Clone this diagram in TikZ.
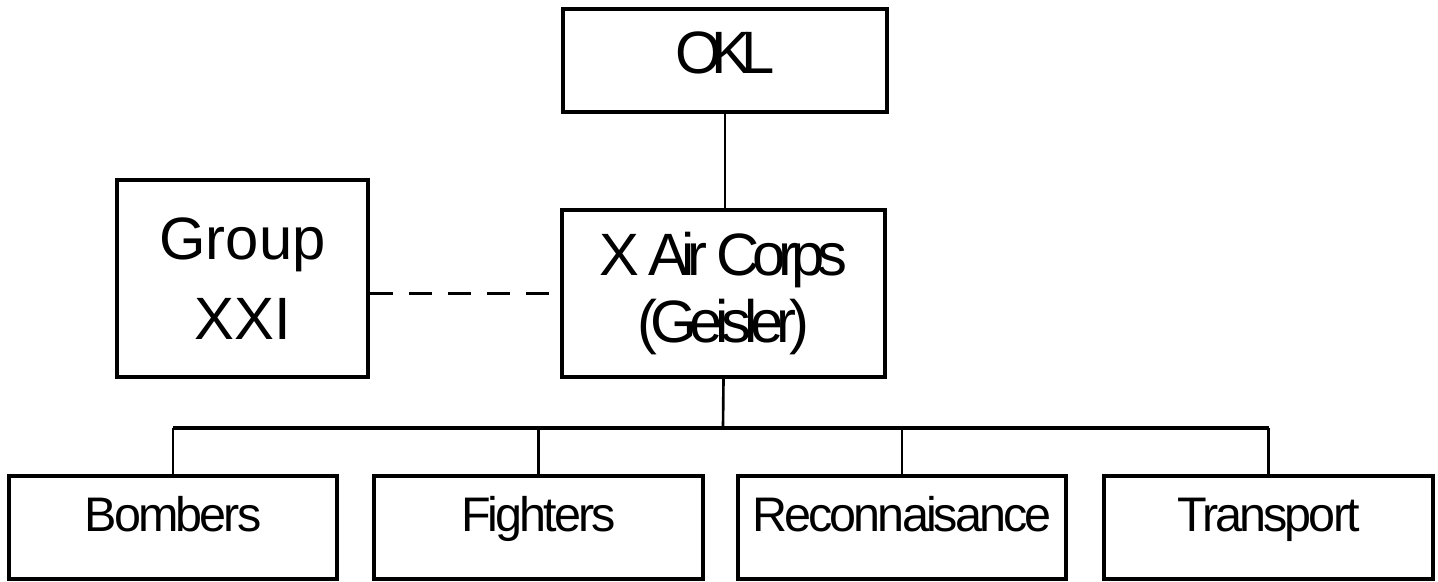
\documentclass[tikz,border=0pt]{standalone}
\usepackage{fontspec}
\setmainfont{Liberation Sans}
\newfontfamily\tightfont{Liberation Sans}[LetterSpace=-12]
\newfontfamily\tighterfont{Liberation Sans}[LetterSpace=-17]
\newfontfamily\unitfont{Liberation Sans}[LetterSpace=-6]
\begin{document}
\begin{tikzpicture}[x=0.01cm,y=-0.01cm,
  box/.style={draw, line width=1.1pt, inner sep=0pt},
  unit/.style={box, minimum width=3.28cm, minimum height=1.03cm, font=\unitfont\fontsize{13.8pt}{16pt}\selectfont, text height=0.33cm, text depth=0.26cm},
  link/.style={line width=0.75pt}]
\useasboundingbox (0,0) rectangle (1438,582);
\node[box, minimum width=3.24cm, minimum height=1.03cm, font=\tighterfont\fontsize{17pt}{20pt}\selectfont, text height=0.45cm, text depth=0.2cm] (1) at (725,60.5) {OKL};
\node[box, minimum width=3.23cm, minimum height=1.67cm, align=center, font=\tightfont\fontsize{17pt}{19pt}\selectfont] (2) at (723.5,293.5) {X Air Corps\\(Geisler)};
\node[box, minimum width=2.51cm, minimum height=1.97cm, align=center, font=\fontsize{17pt}{22.8pt}\selectfont] (3) at (242.5,278.5) {Group\\XXI};
\node[unit] (4) at (173,527.5) {Bombers};
\node[unit] (5) at (538.5,527.5) {Fighters};
\node[unit] (6) at (902,527.5) {Reconnaisance};
\node[unit] (7) at (1268.5,527.5) {Transport};
\coordinate (b) at (723,428);
\path[draw,link] (1.south) -- (1.south |- 2.north);
\path[draw,link,dash pattern=on 0.23cm off 0.16cm] (3.east |- 2.west) -- (2.west);
\path[draw,link] (2.south) -- (b);
\path[draw,line width=1.1pt] (4.north |- b) -- (7.north |- b);
\path[draw,link] (4.north |- b) -- (4.north);
\path[draw,link] (5.north |- b) -- (5.north);
\path[draw,link] (6.north |- b) -- (6.north);
\path[draw,link] (7.north |- b) -- (7.north);
\end{tikzpicture}
\end{document}
